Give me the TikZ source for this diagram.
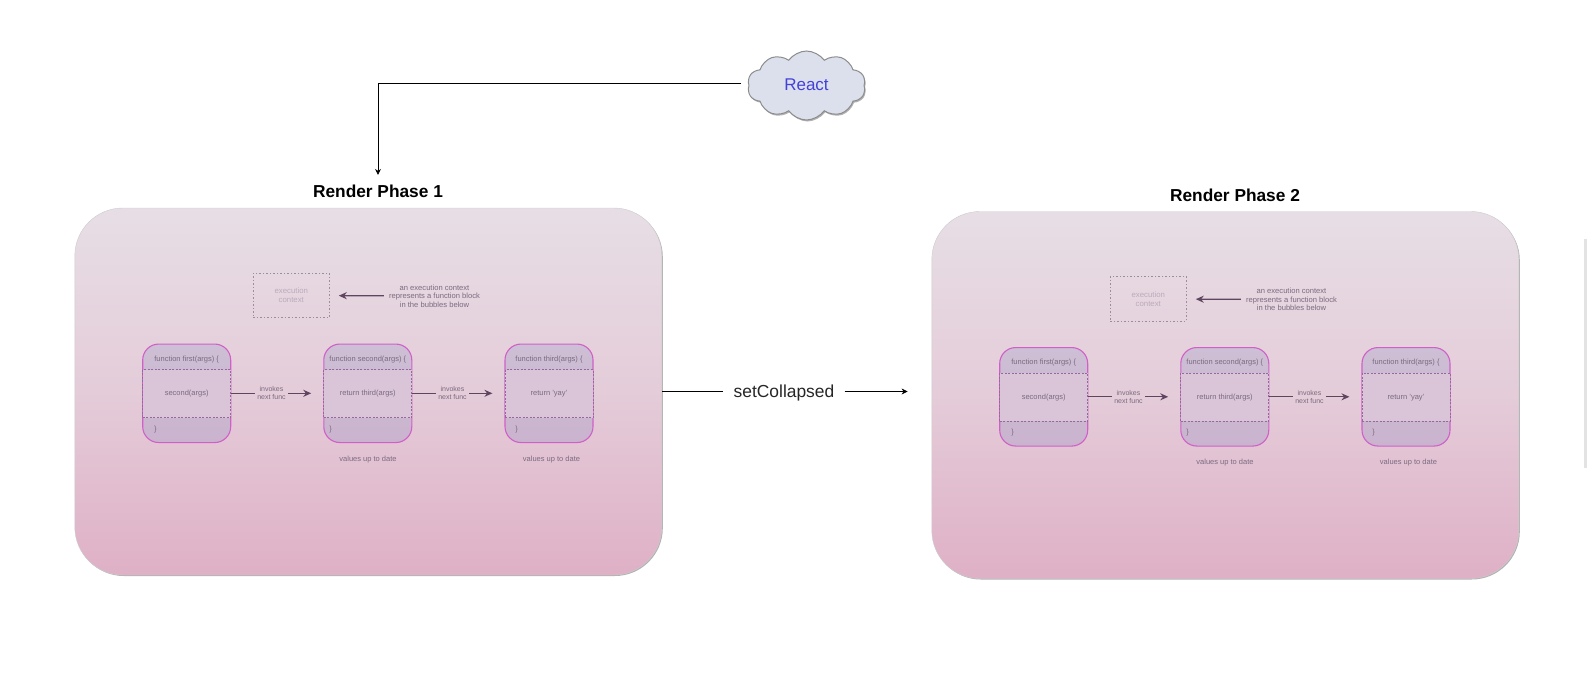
\documentclass[tikz,border=0pt]{standalone}
\usepackage{fontspec}
\setmainfont{Liberation Sans}
\usetikzlibrary{shapes, shapes.symbols, arrows.meta, positioning, calc, shadows}

\definecolor{panelTop}{HTML}{E7DEE5}
\definecolor{panelMid}{HTML}{E4CCD9}
\definecolor{panelBottom}{HTML}{DFB0C6}
\definecolor{boxTop}{HTML}{CDBFD5}
\definecolor{boxBottom}{HTML}{CAB3CE}
\definecolor{boxMid}{HTML}{DAC4D8}
\definecolor{boxEdge}{HTML}{D060C8}
\definecolor{dashEdge}{HTML}{96689E}
\definecolor{ctxEdge}{HTML}{9C8C9C}
\definecolor{flowLine}{HTML}{5F4660}
\definecolor{codeText}{HTML}{7A6B80}
\definecolor{ctxText}{HTML}{BBAABB}
\definecolor{cloudFill}{HTML}{DCE0EC}
\definecolor{reactBlue}{HTML}{4242D8}

\begin{document}
\begin{tikzpicture}[
        x=1pt, y=-1pt,
        panel/.style={rectangle, draw=black!20, rounded corners=48pt, minimum width=587pt, minimum height=367pt, top color=panelTop, bottom color=panelBottom, middle color=panelMid, inner sep=0pt, drop shadow={shadow xshift=1pt, shadow yshift=-1pt, opacity=0.3, fill=black}},
        funcbox/.style={rectangle, draw=boxEdge, line width=1.1pt, rounded corners=16pt, minimum width=88pt, minimum height=98.5pt, top color=boxTop, bottom color=boxBottom, inner sep=0pt},
        funcmid/.style={rectangle, draw=dashEdge, dash pattern=on 2pt off 1.5pt, line width=0.7pt, fill=boxMid, minimum width=88pt, minimum height=48pt, inner sep=0pt},
        context/.style={rectangle, draw=ctxEdge, dash pattern=on 1.5pt off 2pt, line width=0.9pt, minimum width=76pt, minimum height=44.5pt, inner sep=0pt, align=center, font=\fontsize{7.8}{9}\selectfont, text=ctxText},
        code/.style={font=\fontsize{7.5}{9}\selectfont, text=codeText, inner sep=0pt},
        note/.style={font=\fontsize{7.6}{8.6}\selectfont, text=codeText, align=center, inner sep=0pt},
        invoke/.style={font=\fontsize{7}{8}\selectfont, text=codeText, align=center, inner sep=2.2pt},
        title/.style={font=\fontsize{17.3}{20}\selectfont\bfseries, text=black, inner sep=0pt},
        arrow/.style={-{Stealth[length=6pt, width=6pt]}, line width=0.7pt, draw=black},
        flow/.style={-{Stealth[length=8pt, width=7pt]}, line width=1.3pt, draw=flowLine}
    ]
        \useasboundingbox (0,0) rectangle (1587,699);

        \node[rectangle, fill=black!11, minimum width=3pt, minimum height=229pt, inner sep=0pt] (scrollbar) at (1585.5,353.5) {};

        \foreach \p/\dx/\dy/\num in {a/0/0/1, b/857/3.5/2} {
            \begin{scope}[shift={(\dx,\dy)}]
                \node[panel] (panel\p) at (368.3,391.5) {};
                \node[title] (title\p) at (378,191.5) {Render Phase \num};

                \node[context] (exec\p) at (291.3,295.5) {execution\\context};
                \node[note] (about\p) at (434.5,296) {an execution context\\represents a function block\\in the bubbles below};

                \node[funcbox] (first\p) at (186.7,393.3) {};
                \node[funcmid] (firstmid\p) at (186.7,393.7) {};
                \node[funcbox] (second\p) at (367.8,393.3) {};
                \node[funcmid] (secondmid\p) at (367.8,393.7) {};
                \node[funcbox] (third\p) at (549,393.3) {};
                \node[funcmid] (thirdmid\p) at (549,393.7) {};

                \node[code] (firsthead\p) at (186.7,359.5) {function first(args) \{};
                \node[code] (firstbody\p) at (186.7,394) {second(args)};
                \node[code] (firstend\p) at (155.5,429.5) {\}};
                \node[code] (secondhead\p) at (367.8,359.5) {function second(args) \{};
                \node[code] (secondbody\p) at (367.8,394) {return third(args)};
                \node[code] (secondend\p) at (330.5,429.5) {\}};
                \node[code] (thirdhead\p) at (549,359.5) {function third(args) \{};
                \node[code] (thirdbody\p) at (549,394) {return 'yay'};
                \node[code] (thirdend\p) at (516.5,429.5) {\}};

                \node[code] (secondnote\p) at (368,459.5) {values up to date};
                \node[code] (thirdnote\p) at (551.5,459.5) {values up to date};

                \node[invoke] (invokea\p) at (271.5,393.3) {invokes\\next func};
                \node[invoke] (invokeb\p) at (452.5,393.3) {invokes\\next func};

                \draw[flow, shorten <=5pt, shorten >=9pt] (about\p) -- (exec\p);
                \draw[line width=1.3pt, draw=flowLine] (first\p) -- (invokea\p);
                \draw[flow, shorten >=12pt] (invokea\p) -- (second\p);
                \draw[line width=1.3pt, draw=flowLine] (second\p) -- (invokeb\p);
                \draw[flow, shorten >=12pt] (invokeb\p) -- (third\p);
            \end{scope}
        }

        \node[cloud, cloud puffs=10, cloud puff arc=110, aspect=2.1, draw=black!45, line width=1pt, fill=cloudFill, minimum width=118pt, minimum height=69pt, inner sep=0pt, font=\fontsize{17}{20}\selectfont, text=reactBlue, text depth=2pt, drop shadow={shadow xshift=1pt, shadow yshift=-1.5pt, opacity=0.3, fill=black}] (react) at (806.5,85.5) {React};
        \node[font=\fontsize{17.4}{20}\selectfont, text=black!85, text depth=1.5pt, inner sep=0pt, minimum width=121pt, minimum height=20pt] (collapsed) at (784,391.5) {setCollapsed};
        \coordinate (reactout) at (741,83.3);

        \draw[arrow, shorten >=10pt] (reactout) -| (titlea.north);
        \draw[line width=0.7pt, draw=black] (panela.east) -- (collapsed.west);
        \draw[arrow, shorten >=24pt] (collapsed.east) -- (collapsed.east -| panelb.west);
    \end{tikzpicture}
\end{document}
